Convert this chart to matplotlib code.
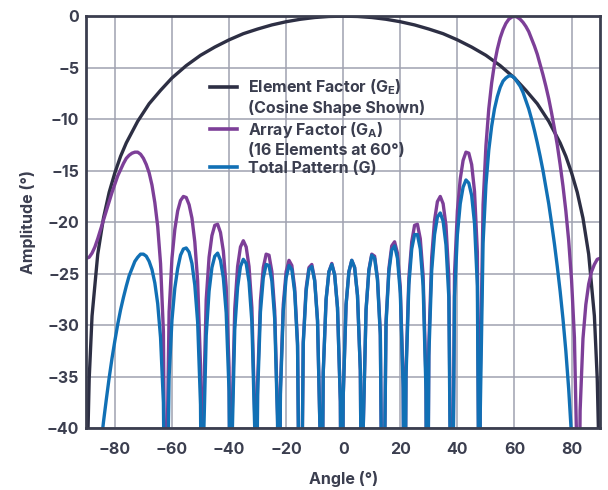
import numpy as np
import matplotlib.pyplot as plt
from matplotlib.lines import Line2D

# angle grid (deg) for the array factor and total pattern, 1 degree steps
angle_deg = np.arange(-90, 91)

array_db = [
    -23.5, -23.4, -23.0, -22.4, -21.6, -20.7, -19.8, -18.9, -18.0, -17.1,
    -16.3, -15.5, -14.9, -14.3, -13.8, -13.5, -13.3, -13.2, -13.2, -13.4,
    -13.8, -14.4, -15.2, -16.4, -18.1, -20.4, -24.0, -30.6, -47.5, -28.7,
    -23.5, -20.7, -18.9, -17.9, -17.5, -17.6, -18.3, -19.6, -21.9, -25.7,
    -33.9, -38.5, -27.5, -23.4, -21.3, -20.3, -20.2, -21.0, -22.8,
    -26.3, -34.1, -39.8, -28.4, -24.3, -22.4, -21.8, -22.4, -24.3, -28.3,
    -38.8, -35.6, -27.6, -24.4, -23.1, -23.2, -24.8, -28.6, -38.8, -36.1,
    -28.0, -24.8, -23.7, -24.2, -26.4, -31.7, -60.0, -31.6, -26.4, -24.4,
    -24.1, -25.6, -29.5, -41.8, -34.6, -27.5, -24.8, -24.0, -25.1, -28.3,
    -37.4, -36.9, -28.0, -24.8, -23.7, -24.4, -27.1, -34.4, -40.1, -28.5,
    -24.6, -23.1, -23.3, -25.4, -30.7, -55.4, -29.6, -24.5, -22.3, -21.9,
    -23.0, -26.3, -35.5, -34.3, -25.4, -21.9, -20.3, -20.2, -21.6, -25.2,
    -35.3, -31.8, -23.4, -19.8, -18.0, -17.5, -18.2, -20.3, -25.3, -56.5,
    -25.0, -18.9, -15.8, -14.0, -13.2, -13.3, -14.4, -17.0, -22.9, -35.2,
    -18.3, -12.6, -9.0, -6.5, -4.6, -3.2, -2.1, -1.3, -0.7, -0.3,
    -0.1, 0.0, -0.1, -0.3, -0.6, -1.0, -1.5, -2.2, -2.9, -3.7,
    -4.7, -5.7, -6.8, -8.0, -9.4, -10.9, -12.5, -14.4, -16.5, -18.9,
    -21.8, -25.6, -31.2, -44.2, -38.3, -31.3, -28.0, -26.0, -24.8, -24.1,
    -23.6, -23.5,
]

total_db = [
    -60.0, -58.5, -52.1, -48.0, -44.7, -41.9, -39.4, -37.2, -35.1, -33.2,
    -31.5, -29.9, -28.5, -27.3, -26.2, -25.2, -24.5, -23.8, -23.4, -23.1,
    -23.1, -23.3, -23.8, -24.6, -25.9, -27.9, -31.2, -37.5, -54.1, -35.0,
    -29.5, -26.4, -24.5, -23.2, -22.6, -22.5, -22.9, -24.0, -26.1, -29.7,
    -37.7, -42.1, -31.0, -26.7, -24.4, -23.3, -23.0,
    -23.7, -25.4, -28.8, -36.4, -42.0, -30.4, -26.3, -24.3, -23.6, -24.0,
    -25.8, -29.7, -40.1, -36.8, -28.7, -25.4, -24.1, -24.2, -25.7, -29.4,
    -39.5, -36.7, -28.6, -25.4, -24.2, -24.6, -26.8, -32.0, -60.0, -31.8,
    -26.7, -24.6, -24.3, -25.7, -29.6, -41.9, -34.6, -27.5, -24.8, -24.1,
    -25.1, -28.3, -37.4, -36.9, -28.0, -24.8, -23.7, -24.4, -27.1, -34.4,
    -40.1, -28.5, -24.7, -23.2, -23.5, -25.6, -31.0, -55.7, -29.9, -24.8,
    -22.7, -22.3, -23.5, -26.9, -36.1, -35.0, -26.1, -22.6, -21.2, -21.2,
    -22.6, -26.2, -36.4, -33.0, -24.7, -21.2, -19.5, -19.1, -19.9, -22.2,
    -27.3, -58.6, -27.2, -21.2, -18.2, -16.6, -15.9, -16.2, -17.4, -20.1,
    -26.2, -38.7, -22.0, -16.4, -13.0, -10.7, -9.0, -7.8, -6.9, -6.3,
    -6.0, -5.8, -5.8, -6.0, -6.4, -6.8, -7.4, -8.2, -9.0, -10.0,
    -11.1, -12.3, -13.6, -15.0, -16.6, -18.2, -20.1, -22.1, -24.3, -26.7,
    -29.4, -32.5, -36.2, -40.8, -47.3, -60.0, -56.6, -50.9, -49.2, -49.2,
    -50.4, -53.2, -58.8, -60.0,
]

# angles where the array factor drops to a null (below the -40 floor)
null_deg = [-62.13, -49.37, -39.34, -30.60, -22.58, -15.01, -7.70, -0.51,
            6.66, 13.95, 21.47, 29.41, 38.03, 47.82, 82.32]
null_db = -60.0

# element factor (cosine), coarser grid
element_deg = [-90, -89.5, -89, -88, -86, -84, -82, -80, -78, -76, -72, -68,
               -64, -60, -55, -50, -45, -40, -35, -30, -25, -20, -15, -10, -5,
               0, 5, 10, 15, 20, 25, 30, 35, 40, 45, 50, 55, 60, 64, 68, 72,
               76, 78, 80, 82, 84, 86, 88, 89, 89.5, 90]
element_db = [-60.0, -41.2, -35.2, -29.1, -23.1, -19.6, -17.1, -15.2, -13.6,
              -12.3, -10.2, -8.5, -7.2, -6.0, -4.8, -3.8, -3.0, -2.3, -1.7,
              -1.25, -0.85, -0.54, -0.30, -0.13, -0.03, 0.0, -0.03, -0.13,
              -0.30, -0.54, -0.85, -1.25, -1.7, -2.3, -3.0, -3.8, -4.8, -6.0,
              -7.2, -8.5, -10.2, -12.3, -13.6, -15.2, -17.1, -19.6, -23.1,
              -29.1, -35.2, -41.2, -60.0]

legend_labels = [
    "Element Factor (G$_E$)",
    "(Cosine Shape Shown)",
    "Array Factor (G$_A$)",
    "(16 Elements at 60°)",
    "Total Pattern (G)",
]

TEXT = "#3b3e4f"
C_ELEM = "#2d2f44"
C_ARRAY = "#7d3f98"
C_TOTAL = "#1170b5"


def with_nulls(values):
    x = np.concatenate([angle_deg, null_deg])
    y = np.concatenate([values, [null_db] * len(null_deg)])
    order = np.argsort(x, kind="stable")
    return x[order], y[order]


plt.rcParams["font.family"] = ["Inter", "DejaVu Sans"]
plt.rcParams["font.weight"] = "bold"
plt.rcParams["axes.labelweight"] = "bold"
plt.rcParams["mathtext.fontset"] = "custom"
plt.rcParams["mathtext.default"] = "bf"
plt.rcParams["mathtext.bf"] = "Inter:bold"

fig = plt.figure(figsize=(6.08, 4.9), dpi=100)
ax = fig.add_axes([0.142, 0.126, 0.845, 0.841])

ax.plot(element_deg, element_db, color=C_ELEM, lw=2.4)
ax.plot(*with_nulls(array_db), color=C_ARRAY, lw=2.4)
ax.plot(*with_nulls(total_db), color=C_TOTAL, lw=2.4)

ax.set_xlim(-90, 90)
ax.set_ylim(-40, 0)
ax.set_xticks(range(-80, 81, 20))
ax.set_yticks(range(-40, 1, 5))
ax.grid(color="#9fa2b0", lw=1.1)
ax.tick_params(length=0, labelsize=11.5, labelcolor=TEXT)
ax.tick_params(axis="x", pad=10)
ax.tick_params(axis="y", pad=5)
for sp in ax.spines.values():
    sp.set_color(TEXT)
    sp.set_linewidth(2)

ax.set_xlabel("Angle (°)", fontsize=11.5, color=TEXT)
ax.set_ylabel("Amplitude (°)", fontsize=11.5, color=TEXT)
ax.xaxis.set_label_coords(0.5, -0.103)
ax.yaxis.set_label_coords(-0.098, 0.5)

blank = Line2D([], [], color="none")
handles = [
    Line2D([], [], color=C_ELEM, lw=2.6),
    blank,
    Line2D([], [], color=C_ARRAY, lw=2.6),
    blank,
    Line2D([], [], color=C_TOTAL, lw=2.6),
]
ax.legend(handles, legend_labels, loc="upper left", bbox_to_anchor=(0.24, 0.851),
          frameon=False, fontsize=11.5, borderpad=0, borderaxespad=0,
          handlelength=1.7, handletextpad=0.69, labelspacing=0.2,
          labelcolor=TEXT)

fig.savefig("out.png")
